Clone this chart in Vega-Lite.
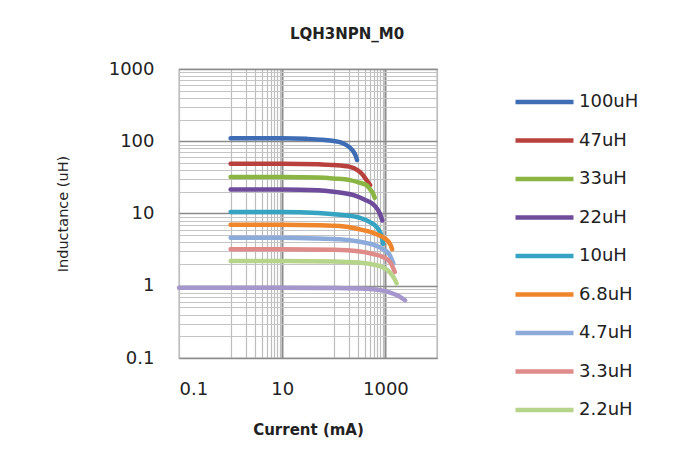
{
  "$schema": "https://vega.github.io/schema/vega-lite/v6.json",
  "width": 258,
  "height": 289,
  "padding": {"left": 55, "top": 26, "right": 5, "bottom": 5},
  "background": "white",
  "title": {
    "text": "LQH3NPN_M0",
    "anchor": "middle",
    "frame": "bounds",
    "font": "DejaVu Sans",
    "fontSize": 15,
    "fontWeight": "bold",
    "color": "#222",
    "offset": 18.5
  },
  "config": {
    "view": {"stroke": "#808080", "strokeWidth": 1.2},
    "axis": {
      "labelFont": "DejaVu Sans",
      "labelFontSize": 18,
      "labelColor": "#222",
      "titleFont": "DejaVu Sans",
      "titleColor": "#222",
      "titleFontWeight": "bold",
      "ticks": false,
      "domain": false
    }
  },
  "datasets": {
    "curves": [
      {"series": "100uH", "current": 1, "L": 110},
      {"series": "100uH", "current": 10, "L": 110},
      {"series": "100uH", "current": 30, "L": 108},
      {"series": "100uH", "current": 60, "L": 105},
      {"series": "100uH", "current": 100, "L": 101},
      {"series": "100uH", "current": 150, "L": 94},
      {"series": "100uH", "current": 200, "L": 83},
      {"series": "100uH", "current": 240, "L": 72},
      {"series": "100uH", "current": 265, "L": 63},
      {"series": "100uH", "current": 282, "L": 55},

      {"series": "47uH", "current": 1, "L": 49},
      {"series": "47uH", "current": 10, "L": 49},
      {"series": "47uH", "current": 50, "L": 48},
      {"series": "47uH", "current": 100, "L": 47},
      {"series": "47uH", "current": 200, "L": 44.5},
      {"series": "47uH", "current": 300, "L": 39},
      {"series": "47uH", "current": 368, "L": 34},
      {"series": "47uH", "current": 430, "L": 29},
      {"series": "47uH", "current": 505, "L": 24.7},

      {"series": "33uH", "current": 1, "L": 32},
      {"series": "33uH", "current": 10, "L": 32},
      {"series": "33uH", "current": 50, "L": 31.5},
      {"series": "33uH", "current": 100, "L": 30.5},
      {"series": "33uH", "current": 206, "L": 29},
      {"series": "33uH", "current": 300, "L": 27},
      {"series": "33uH", "current": 438, "L": 24.5},
      {"series": "33uH", "current": 520, "L": 21},
      {"series": "33uH", "current": 575, "L": 19},
      {"series": "33uH", "current": 620, "L": 16.5},

      {"series": "22uH", "current": 1, "L": 21.5},
      {"series": "22uH", "current": 10, "L": 21.5},
      {"series": "22uH", "current": 50, "L": 21},
      {"series": "22uH", "current": 100, "L": 20},
      {"series": "22uH", "current": 250, "L": 17.8},
      {"series": "22uH", "current": 400, "L": 15.5},
      {"series": "22uH", "current": 575, "L": 13.5},
      {"series": "22uH", "current": 700, "L": 11.5},
      {"series": "22uH", "current": 780, "L": 10},
      {"series": "22uH", "current": 870, "L": 8},

      {"series": "10uH", "current": 1, "L": 10.5},
      {"series": "10uH", "current": 10, "L": 10.5},
      {"series": "10uH", "current": 50, "L": 10.2},
      {"series": "10uH", "current": 130, "L": 9.6},
      {"series": "10uH", "current": 323, "L": 8.7},
      {"series": "10uH", "current": 500, "L": 7.6},
      {"series": "10uH", "current": 690, "L": 6.4},
      {"series": "10uH", "current": 800, "L": 5.4},
      {"series": "10uH", "current": 860, "L": 4.6},
      {"series": "10uH", "current": 900, "L": 3.8},

      {"series": "6.8uH", "current": 1, "L": 7.0},
      {"series": "6.8uH", "current": 10, "L": 7.0},
      {"series": "6.8uH", "current": 50, "L": 6.9},
      {"series": "6.8uH", "current": 130, "L": 6.7},
      {"series": "6.8uH", "current": 300, "L": 6.1},
      {"series": "6.8uH", "current": 580, "L": 5.4},
      {"series": "6.8uH", "current": 850, "L": 4.8},
      {"series": "6.8uH", "current": 1070, "L": 4.3},
      {"series": "6.8uH", "current": 1250, "L": 3.7},
      {"series": "6.8uH", "current": 1350, "L": 3.2},

      {"series": "4.7uH", "current": 1, "L": 4.6},
      {"series": "4.7uH", "current": 10, "L": 4.6},
      {"series": "4.7uH", "current": 50, "L": 4.5},
      {"series": "4.7uH", "current": 130, "L": 4.4},
      {"series": "4.7uH", "current": 300, "L": 4.1},
      {"series": "4.7uH", "current": 580, "L": 3.7},
      {"series": "4.7uH", "current": 900, "L": 3.2},
      {"series": "4.7uH", "current": 1200, "L": 2.7},
      {"series": "4.7uH", "current": 1420, "L": 2.05},

      {"series": "3.3uH", "current": 1, "L": 3.2},
      {"series": "3.3uH", "current": 10, "L": 3.2},
      {"series": "3.3uH", "current": 100, "L": 3.15},
      {"series": "3.3uH", "current": 300, "L": 3.0},
      {"series": "3.3uH", "current": 580, "L": 2.75},
      {"series": "3.3uH", "current": 900, "L": 2.5},
      {"series": "3.3uH", "current": 1250, "L": 2.1},
      {"series": "3.3uH", "current": 1520, "L": 1.55},

      {"series": "2.2uH", "current": 1, "L": 2.2},
      {"series": "2.2uH", "current": 10, "L": 2.2},
      {"series": "2.2uH", "current": 100, "L": 2.17},
      {"series": "2.2uH", "current": 300, "L": 2.1},
      {"series": "2.2uH", "current": 580, "L": 1.97},
      {"series": "2.2uH", "current": 900, "L": 1.8},
      {"series": "2.2uH", "current": 1250, "L": 1.5},
      {"series": "2.2uH", "current": 1500, "L": 1.25},
      {"series": "2.2uH", "current": 1650, "L": 1.08},

      {"series": "1uH", "current": 0.1, "L": 0.94},
      {"series": "1uH", "current": 1, "L": 0.94},
      {"series": "1uH", "current": 10, "L": 0.94},
      {"series": "1uH", "current": 100, "L": 0.93},
      {"series": "1uH", "current": 400, "L": 0.91},
      {"series": "1uH", "current": 800, "L": 0.87},
      {"series": "1uH", "current": 1200, "L": 0.81},
      {"series": "1uH", "current": 1800, "L": 0.72},
      {"series": "1uH", "current": 2400, "L": 0.63}
    ]
  },
  "data": {"name": "curves"},
  "encoding": {
    "x": {
      "field": "current",
      "type": "quantitative",
      "scale": {"type": "log", "domain": [0.1, 10000], "nice": false},
      "axis": {
        "title": "Current (mA)",
        "titleFontSize": 15,
        "titlePadding": 24,
        "labelPadding": 22,
        "format": "~g",
        "values": [0.1, 1, 2, 3, 4, 5, 6, 7, 8, 9, 10, 100, 200, 300, 400, 500, 600, 700, 800, 900, 1000, 10000],
        "labelExpr": "(datum.value == 0.1 || datum.value == 10 || datum.value == 1000) ? datum.label : ''",
        "gridColor": {"condition": {"test": "datum.value == 10 || datum.value == 1000", "value": "#8c8c8c"}, "value": "#bdbdbd"},
        "gridWidth": {"condition": {"test": "datum.value == 10 || datum.value == 1000", "value": 2}, "value": 1.2}
      }
    },
    "y": {
      "field": "L",
      "type": "quantitative",
      "scale": {"type": "log", "domain": [0.1, 1000], "nice": false},
      "axis": {
        "title": "Inductance (uH)",
        "titleFontSize": 14.5,
        "titleFontWeight": "normal",
        "titlePadding": 38,
        "labelPadding": 25,
        "format": "~g",
        "values": [0.1, 0.2, 0.3, 0.4, 0.5, 0.6, 0.7, 0.8, 0.9, 1, 2, 3, 4, 5, 6, 7, 8, 9, 10, 20, 30, 40, 50, 60, 70, 80, 90, 100, 200, 300, 400, 500, 600, 700, 800, 900, 1000],
        "labelExpr": "(datum.value == 0.1 || datum.value == 1 || datum.value == 10 || datum.value == 100 || datum.value == 1000) ? datum.label : ''",
        "gridColor": {"condition": {"test": "datum.value == 0.1 || datum.value == 1 || datum.value == 10 || datum.value == 100 || datum.value == 1000", "value": "#8c8c8c"}, "value": "#c4c4c4"},
        "gridWidth": {"condition": {"test": "datum.value == 0.1 || datum.value == 1 || datum.value == 10 || datum.value == 100 || datum.value == 1000", "value": 1.5}, "value": 1}
      }
    }
  },
  "layer": [
    {
      "transform": [{"filter": "datum.series == '1uH'"}],
      "mark": {"type": "line", "interpolate": "monotone", "strokeWidth": 4.5, "strokeCap": "round", "color": "#A596CC"},
      "encoding": {"detail": {"field": "series"}}
    },
    {
      "transform": [{"filter": "datum.series != '1uH'"}],
      "mark": {"type": "line", "interpolate": "monotone", "strokeWidth": 4.5, "strokeCap": "round"},
      "encoding": {
        "color": {
          "field": "series",
          "type": "nominal",
          "sort": ["100uH", "47uH", "33uH", "22uH", "10uH", "6.8uH", "4.7uH", "3.3uH", "2.2uH"],
          "scale": {
            "domain": ["100uH", "47uH", "33uH", "22uH", "10uH", "6.8uH", "4.7uH", "3.3uH", "2.2uH"],
            "range": ["#3E6DB5", "#B8413D", "#8BB543", "#6E4C9B", "#35A4C2", "#F0862B", "#8CAADA", "#DE8B89", "#B7D48B"]
          },
          "legend": {
            "title": null,
            "orient": "none",
            "legendX": 334,
            "legendY": 24,
            "padding": 0,
            "symbolType": "stroke",
            "symbolSize": 3364,
            "symbolStrokeWidth": 4.5,
            "clipHeight": 18,
            "rowPadding": 20.5,
            "labelOffset": 3,
            "labelFont": "DejaVu Sans",
            "labelFontSize": 18,
            "labelColor": "#222",
            "labelLimit": 200
          }
        }
      }
    }
  ]
}
